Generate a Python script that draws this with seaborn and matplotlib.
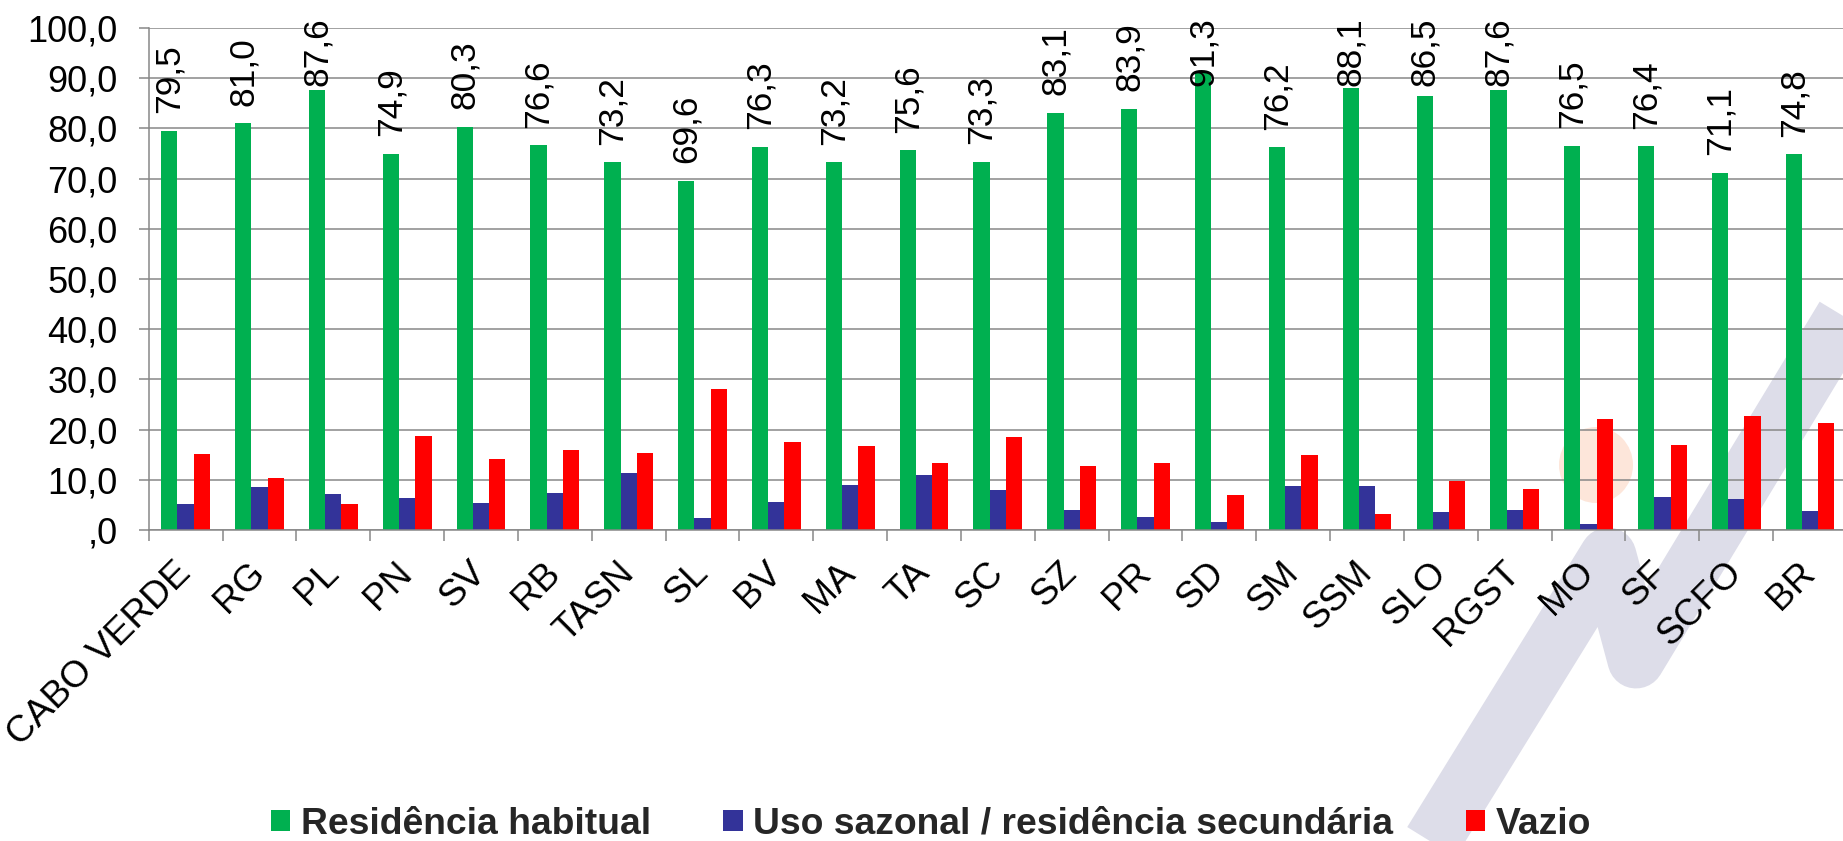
import numpy as np
import pandas as pd
import matplotlib
matplotlib.use("Agg")
import matplotlib.pyplot as plt
import seaborn as sns
from matplotlib.lines import Line2D
from matplotlib.patches import Ellipse, Patch
from matplotlib.ticker import FuncFormatter

# --- data ---
regioes = ["CABO VERDE", "RG", "PL", "PN", "SV", "RB", "TASN", "SL", "BV", "MA",
           "TA", "SC", "SZ", "PR", "SD", "SM", "SSM", "SLO", "RGST", "MO",
           "SF", "SCFO", "BR"]
residencia_habitual = [79.5, 81.0, 87.6, 74.9, 80.3, 76.6, 73.2, 69.6, 76.3, 73.2,
                       75.6, 73.3, 83.1, 83.9, 91.3, 76.2, 88.1, 86.5, 87.6, 76.5,
                       76.4, 71.1, 74.8]
uso_sazonal = [5.1, 8.5, 7.1, 6.3, 5.3, 7.3, 11.3, 2.3, 5.6, 9.0,
               10.9, 8.0, 4.0, 2.5, 1.6, 8.8, 8.7, 3.6, 4.0, 1.1,
               6.6, 6.1, 3.8]
vazio = [15.2, 10.4, 5.2, 18.7, 14.1, 15.9, 15.4, 28.0, 17.5, 16.8,
         13.3, 18.6, 12.7, 13.4, 6.9, 14.9, 3.1, 9.7, 8.2, 22.2,
         16.9, 22.7, 21.4]
series = ["Residência habitual", "Uso sazonal / residência secundária", "Vazio"]
cores = ["#00B050", "#333399", "#FF0000"]

df = pd.DataFrame({
    "regiao": regioes * 3,
    "serie": [series[0]] * len(regioes) + [series[1]] * len(regioes) + [series[2]] * len(regioes),
    "valor": residencia_habitual + uso_sazonal + vazio,
})

sns.set_theme(style="white")
plt.rcParams["font.family"] = ["Liberation Sans", "DejaVu Sans"]

W, H = 1843, 841
fig = plt.figure(figsize=(W / 100, H / 100), dpi=100)
fig.patch.set_facecolor("white")

# background watermark (grey zigzag + faint orange dot)
def fx(x):
    return x / W

def fy(y):
    return 1 - y / H

wm_x = [1408, 1608, 1636, 1880]
wm_y = [880, 556, 660, 257]
fig.add_artist(Line2D([fx(v) for v in wm_x], [fy(v) for v in wm_y],
                      transform=fig.transFigure, color="#DDDDE9", lw=41,
                      solid_joinstyle="round", solid_capstyle="butt", zorder=-5))
fig.add_artist(Ellipse((fx(1596), fy(465)), 74 / W, 76 / H, transform=fig.transFigure,
                       facecolor="#FDE6DA", edgecolor="none", zorder=-4))

ax = fig.add_axes([148.7 / W, 1 - 530 / H, (1847 - 148.7) / W, (530 - 27.9) / H])
ax.set_facecolor("none")

sns.barplot(data=df, x="regiao", y="valor", hue="serie", order=regioes,
            hue_order=series, palette=cores, saturation=1, width=0.66,
            errorbar=None, linewidth=0, legend=False, ax=ax)

grid_col = "#878787"
ax.set_ylim(0, 100)
ax.set_xlim(-0.5, len(regioes) - 0.5)
ax.set_yticks(np.arange(0, 101, 10))
ax.yaxis.set_major_formatter(FuncFormatter(
    lambda v, p: f"{v:.1f}".replace(".", ",").lstrip("0") if v < 1 else f"{v:.1f}".replace(".", ",")))
ax.yaxis.grid(True, color=grid_col, lw=1.1)
ax.set_axisbelow(True)
ax.set_xlabel("")
ax.set_ylabel("")

for s in ["top", "right"]:
    ax.spines[s].set_visible(False)
for s in ["left", "bottom"]:
    ax.spines[s].set_color(grid_col)
    ax.spines[s].set_linewidth(1.1)

ax.tick_params(axis="y", which="major", length=7.2, width=1.1, color=grid_col,
               pad=15, labelsize=26, labelcolor="black", left=True)
ax.set_xticks(np.arange(-0.5, len(regioes)), minor=True)
ax.tick_params(axis="x", which="minor", length=8, width=1.1, color=grid_col, bottom=True)
ax.tick_params(axis="x", which="major", length=0, pad=27, labelsize=26.8, labelcolor="black")
plt.setp(ax.get_xticklabels(), rotation=45, ha="right", va="center", rotation_mode="anchor")

# rotated value labels above the green bars
for bar, v in zip(ax.containers[0], residencia_habitual):
    xc = bar.get_x() + bar.get_width() / 2
    ax.text(xc, min(v + 3.5, 88.5), f"{v:.1f}".replace(".", ","), rotation=90,
            ha="center", va="bottom", fontsize=25.5, color="black", clip_on=False)

handles = [Patch(facecolor=c, edgecolor="none") for c in cores]
fig.legend(handles, series, loc="center", bbox_to_anchor=(931 / W, fy(824)), ncol=3,
           frameon=False, prop={"family": "Liberation Sans", "weight": "bold", "size": 26.8},
           handlelength=0.52, handleheight=0.5, handletextpad=0.28, columnspacing=1.95,
           borderpad=0, borderaxespad=0)

fig.savefig("out.png", dpi=100)
